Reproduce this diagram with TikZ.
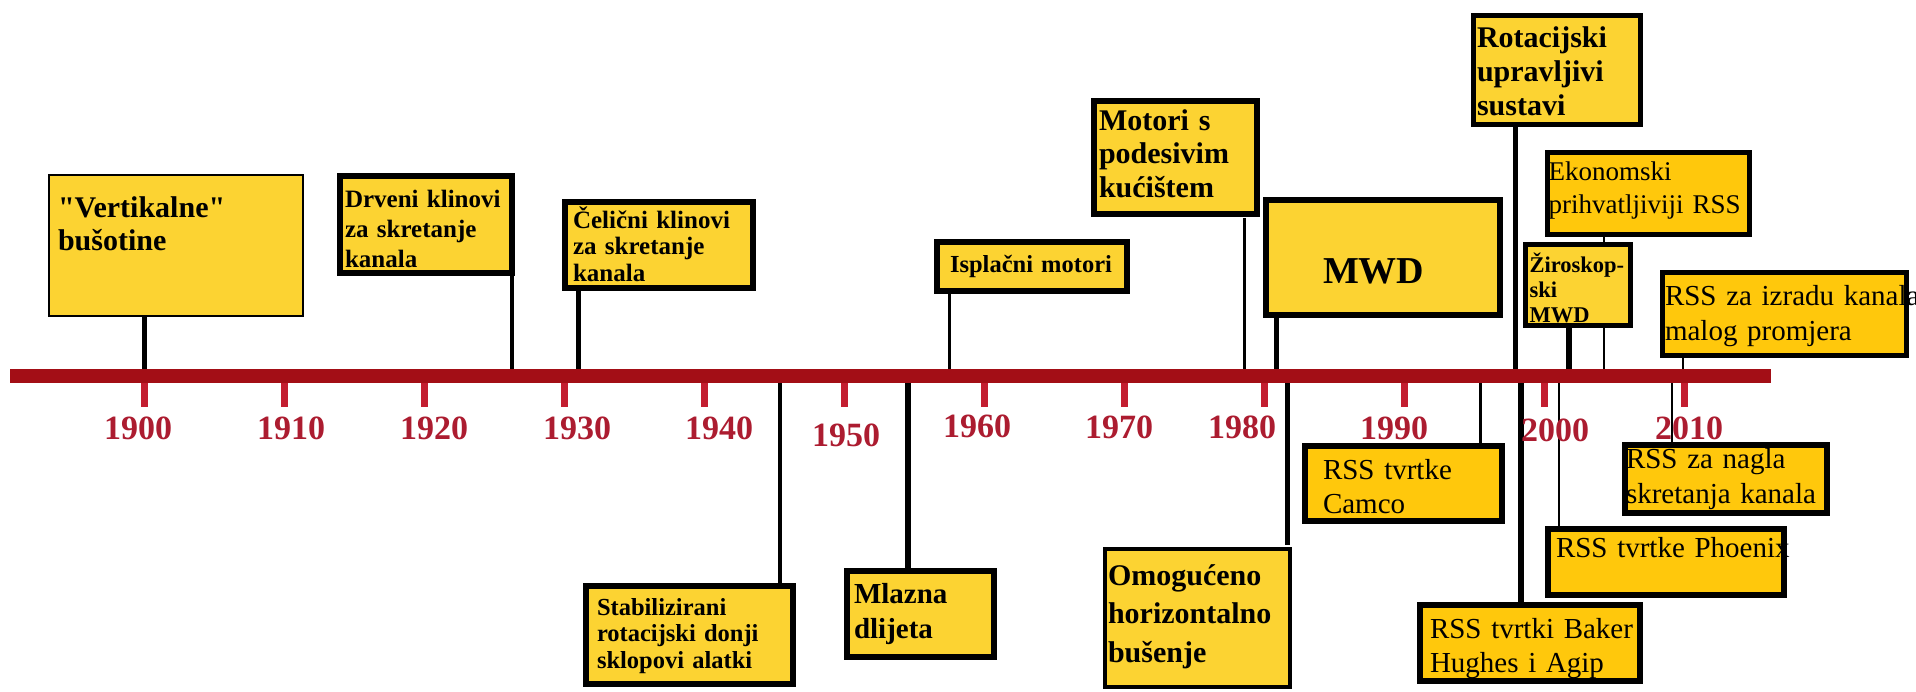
\documentclass[tikz,border=0pt]{standalone}
\usepackage{fontspec}
\setmainfont{Liberation Serif}
\usetikzlibrary{calc}
\definecolor{mybar}{RGB}{163, 14, 22}
\definecolor{mytick}{RGB}{195, 30, 48}
\definecolor{myyear}{RGB}{172, 28, 48}
\definecolor{myyellow}{RGB}{252, 211, 50}
\definecolor{myorange}{RGB}{255, 200, 12}
\pgfdeclarelayer{bg}
\pgfsetlayers{bg,main}
\tikzset{
  ybox/.style = {draw, fill = myyellow, line width = 6pt, inner ysep = 0pt, outer sep = 0pt, anchor = north west, align = left},
  obox/.style = {ybox, fill = myorange},
  stem/.style = {line width = #1, black},
  yr/.style = {text = myyear, inner sep = 0pt, font = \fontsize{34}{34}\selectfont\bfseries}
}

\begin{document}
\begin{tikzpicture}[x = 1pt, y = -1pt]
\useasboundingbox (0,0) rectangle (1916,691);

% boxes above the line
\node[ybox, line width = 2pt, font = {\fontsize{30}{33.5}\selectfont\bfseries}, inner xsep = 9pt, text width = 236pt, text height = 42pt, text depth = 99pt] (vert) at (49,175) {\textquotedbl Vertikalne\textquotedbl\\bušotine};
\node[ybox, font = {\fontsize{25}{30}\selectfont\bfseries}, inner xsep = 5pt, text width = 162pt, text height = 31pt, text depth = 66pt] (drveni) at (340,176) {Drveni klinovi\\za skretanje\\kanala};
\node[ybox, font = {\fontsize{25}{26.5}\selectfont\bfseries}, inner xsep = 8pt, text width = 172pt, text height = 26pt, text depth = 60pt] (celicni) at (565,202) {Čelični klinovi\\za skretanje\\kanala};
\node[ybox, font = {\fontsize{24.5}{28}\selectfont\bfseries}, inner xsep = 13pt, text width = 164pt, text height = 30pt, text depth = 19pt] (isplacni) at (937,242) {Isplačni motori};
\node[ybox, font = {\fontsize{30}{33.5}\selectfont\bfseries}, inner xsep = 5pt, text width = 153pt, text height = 29pt, text depth = 84pt] (motori) at (1094,101) {Motori s\\podesivim\\kućištem};
\node[ybox, font = {\fontsize{38}{40}\selectfont\bfseries}, inner xsep = 57pt, text width = 120pt, text height = 83pt, text depth = 32pt] (mwd) at (1266,200) {MWD};
\node[ybox, line width = 5pt, font = {\fontsize{30}{34}\selectfont\bfseries}, inner xsep = 3.5pt, text width = 160pt, text height = 31.5pt, text depth = 77.5pt] (rotac) at (1473.5,15.5) {Rotacijski\\upravljivi\\sustavi};
\node[obox, line width = 5pt, font = {\fontsize{27}{33}\selectfont}, inner xsep = 1pt, text width = 200pt, text height = 27.5pt, text depth = 54.5pt] (ekon) at (1547.5,152.5) {Ekonomski\\prihvatljiviji RSS};
\node[ybox, line width = 5pt, font = {\fontsize{22.5}{25}\selectfont\bfseries}, inner xsep = 4pt, text width = 97pt, text height = 27.5pt, text depth = 53.5pt] (ziro) at (1525.5,244.5) {Žiroskop-\\ski\\MWD};
\node[obox, line width = 5pt, font = {\fontsize{29}{35}\selectfont}, inner xsep = 2.5pt, text width = 239pt, text height = 32.5pt, text depth = 50.5pt] (izradu) at (1662.5,272.5) {\mbox{RSS za izradu kanala}\\malog promjera};

% boxes below the line
\node[ybox, font = {\fontsize{24.5}{26.5}\selectfont\bfseries}, inner xsep = 11pt, text width = 185pt, text height = 29pt, text depth = 69pt] (stab) at (586,586) {Stabilizirani\\rotacijski donji\\sklopovi alatki};
\node[ybox, font = {\fontsize{29}{35}\selectfont\bfseries}, inner xsep = 7pt, text width = 133pt, text height = 32pt, text depth = 54pt] (mlazna) at (847,571) {Mlazna\\dlijeta};
\node[ybox, line width = 4pt, font = {\fontsize{30}{38.5}\selectfont\bfseries}, inner xsep = 3pt, text width = 179pt, text height = 36pt, text depth = 102pt] (omog) at (1105,549) {Omogućeno\\horizontalno\\bušenje};
\node[obox, font = {\fontsize{29}{34}\selectfont}, inner xsep = 18pt, text width = 161pt, text height = 33pt, text depth = 42pt] (camco) at (1305,446) {RSS tvrtke\\Camco};
\node[obox, font = {\fontsize{29}{34}\selectfont}, inner xsep = 10pt, text width = 200pt, text height = 33pt, text depth = 43pt] (baker) at (1420,605) {\mbox{RSS tvrtki Baker}\\Hughes i Agip};
\node[obox, font = {\fontsize{29}{34}\selectfont}, inner xsep = 8pt, text width = 220pt, text height = 28pt, text depth = 38pt] (phoenix) at (1548,529) {\mbox{RSS tvrtke Phoenix}};
\node[obox, font = {\fontsize{29}{35}\selectfont}, inner xsep = 1pt, text width = 200pt, text height = 23pt, text depth = 45pt] (nagla) at (1625,445) {RSS za nagla\\skretanja kanala};

% years
\foreach \yr/\lx/\ly in {1900/138/428, 1910/291/428, 1920/434/428, 1930/577/428, 1940/719/428, 1950/846/435, 1960/977/426, 1970/1119/427, 1980/1242/427, 1990/1394/428, 2000/1555/430, 2010/1689/428}
  \node[yr] (y\yr) at (\lx,\ly) {\yr};

% where the stems meet the line
\coordinate (s-vert) at (144.5,372);
\coordinate (s-drveni) at (512,372);
\coordinate (s-celicni) at (578,372);
\coordinate (s-isplacni) at (949,372);
\coordinate (s-motori) at (1244,372);
\coordinate (s-mwd) at (1276,372);
\coordinate (s-rotac) at (1515,372);
\coordinate (s-ziro) at (1569,372);
\coordinate (s-ekon) at (1604,372);
\coordinate (s-izradu) at (1683,372);
\coordinate (s-stab) at (780,380);
\coordinate (s-mlazna) at (908,380);
\coordinate (s-omog) at (1287,380);
\coordinate (s-camco) at (1480,380);
\coordinate (s-baker) at (1521,380);
\coordinate (s-phoenix) at (1559,380);
\coordinate (s-nagla) at (1672,380);

\begin{pgfonlayer}{bg}
\draw[stem = 5pt] (vert.south -| s-vert) -- (s-vert);
\draw[stem = 4pt] (drveni.south -| s-drveni) -- (s-drveni);
\draw[stem = 5pt] (celicni.south -| s-celicni) -- (s-celicni);
\draw[stem = 3pt] (isplacni.south -| s-isplacni) -- (s-isplacni);
\draw[stem = 3pt] ($(motori.south -| s-motori)+(0,4)$) -- (s-motori);
\draw[stem = 5pt] (mwd.south -| s-mwd) -- (s-mwd);
\draw[stem = 5pt] (rotac.south -| s-rotac) -- (s-rotac);
\draw[stem = 6pt] (ziro.south -| s-ziro) -- (s-ziro);
\draw[stem = 2pt] (ekon.south -| s-ekon) -- (s-ekon);
\draw[stem = 2pt] (izradu.south -| s-izradu) -- (s-izradu);
\draw[stem = 4pt] (s-stab) -- (stab.north -| s-stab);
\draw[stem = 6pt] (s-mlazna) -- (mlazna.north -| s-mlazna);
\draw[stem = 5pt] (s-omog) -- ($(omog.north -| s-omog)+(0,-4)$);
\draw[stem = 3pt] (s-camco) -- (camco.north -| s-camco);
\draw[stem = 6pt] (s-baker) -- (baker.north -| s-baker);
\draw[stem = 2pt] (s-phoenix) -- (phoenix.north -| s-phoenix);
\draw[stem = 2pt] (s-nagla) -- (nagla.north -| s-nagla);
% time line
\draw[mybar, line width = 14pt] (10,376) -- (1771,376);
\foreach \t in {0,...,11}
  \draw[mytick, line width = 7pt] ({144.5+140*\t},383) -- ({144.5+140*\t},407);
\end{pgfonlayer}
\end{tikzpicture}
\end{document}
